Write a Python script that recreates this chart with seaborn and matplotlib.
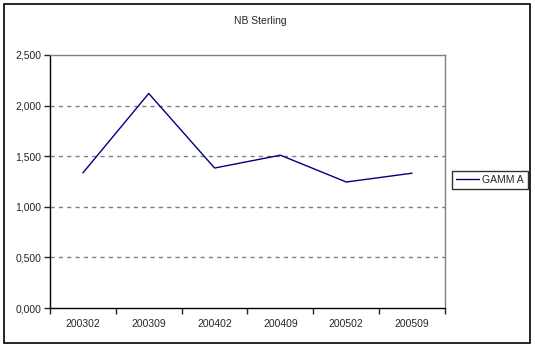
import matplotlib
matplotlib.use("Agg")
import matplotlib.pyplot as plt
from matplotlib.patches import Rectangle
from matplotlib.ticker import FixedLocator, FixedFormatter
import seaborn as sns
import pandas as pd

periods = ["200302", "200309", "200402", "200409", "200502", "200509"]
gamma = [1335, 2120, 1383, 1510, 1245, 1332]
y_ticks = [0, 500, 1000, 1500, 2000, 2500]
y_labels = ["0,000", "0,500", "1,000", "1,500", "2,000", "2,500"]

sns.set_style("white")
plt.rcParams["font.family"] = ["Liberation Sans", "DejaVu Sans"]

W, H = 535, 348
fig = plt.figure(figsize=(W / 100, H / 100), dpi=100)
fig.patch.set_facecolor("white")

# outer frame
fig.patches.append(Rectangle((3.5 / W, 1 - 342.5 / H), (530 - 3.5) / W, (342.5 - 4) / H,
                             transform=fig.transFigure, fill=False, edgecolor="black",
                             linewidth=1.2))

ax = fig.add_axes([50 / W, 1 - 308 / H, 395 / W, 253 / H])
df = pd.DataFrame({"period": periods, "value": gamma})
sns.lineplot(data=df, x="period", y="value", ax=ax, color="#000080", linewidth=1.0,
             label="GAMM A", legend=False)

ax.set_xlim(-0.5, len(periods) - 0.5)
ax.set_ylim(0, 2500)
ax.set_xlabel("")
ax.set_ylabel("")

ax.yaxis.set_major_locator(FixedLocator(y_ticks))
ax.yaxis.set_major_formatter(FixedFormatter(y_labels))
ax.tick_params(axis="y", direction="out", length=4, width=1, labelsize=7.5, pad=2, left=True)

ax.set_xticks(range(len(periods)))
ax.set_xticklabels(periods)
ax.set_xticks([i - 0.5 for i in range(len(periods) + 1)], minor=True)
ax.tick_params(axis="x", which="major", length=0, labelsize=7.5, pad=8)
ax.tick_params(axis="x", which="minor", direction="out", length=4, width=1, bottom=True)

for y in y_ticks[1:-1]:
    ax.axhline(y, color="#808080", linestyle=(0, (3, 3)), linewidth=1, zorder=0)

for side in ["left", "bottom"]:
    ax.spines[side].set_color("black")
    ax.spines[side].set_linewidth(1)
for side in ["top", "right"]:
    ax.spines[side].set_color("#808080")
    ax.spines[side].set_linewidth(1)

fig.text(260 / W, 1 - 21 / H, "NB Sterling", ha="center", va="center", fontsize=7.5)

handles, labels = ax.get_legend_handles_labels()
leg = fig.legend(handles, labels, loc="center", bbox_to_anchor=(490 / W, 1 - 180 / H),
                 frameon=True, fancybox=False, fontsize=7.5, handlelength=2.2,
                 handletextpad=0.3, borderpad=0.4, borderaxespad=0)
leg.get_frame().set_edgecolor("black")
leg.get_frame().set_linewidth(1)

fig.savefig("out.png", dpi=100)
